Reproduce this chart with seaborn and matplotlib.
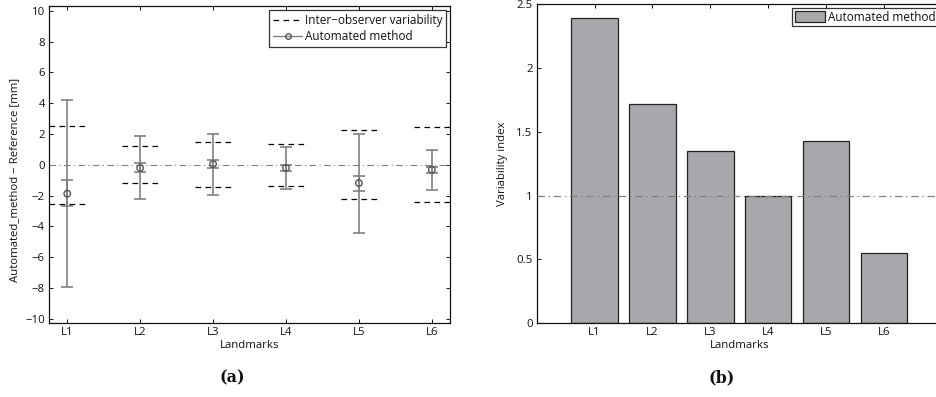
import numpy as np
import pandas as pd
import matplotlib
matplotlib.use("Agg")
import matplotlib.pyplot as plt
from matplotlib.lines import Line2D
from matplotlib.patches import Patch
import seaborn as sns

# Landmark labels
landmarks = ["L1", "L2", "L3", "L4", "L5", "L6"]

# Automated method minus reference [mm]
mean_diff = [-1.88, -0.21, 0.04, -0.21, -1.19, -0.33]
inner_low = [-2.71, -0.50, -0.21, -0.43, -1.69, -0.54]
inner_high = [-1.00, 0.11, 0.32, -0.04, -0.76, -0.15]
outer_low = [-7.97, -2.23, -1.95, -1.56, -4.44, -1.67]
outer_high = [4.22, 1.84, 1.99, 1.13, 1.97, 0.97]

# Inter-observer variability limits (symmetric)
inter_obs = [2.53, 1.19, 1.46, 1.35, 2.23, 2.43]

# Variability index of the automated method
variability_index = [2.39, 1.72, 1.35, 1.00, 1.43, 0.55]

sns.set_style("ticks")
plt.rcParams["font.family"] = ["Open Sans", "DejaVu Sans"]
plt.rcParams["font.size"] = 8.2
plt.rcParams["text.color"] = "#111111"
plt.rcParams["axes.labelcolor"] = "#111111"
plt.rcParams["xtick.color"] = "#111111"
plt.rcParams["ytick.color"] = "#111111"
plt.rcParams["axes.edgecolor"] = "#111111"
plt.rcParams["axes.linewidth"] = 0.9
plt.rcParams["xtick.direction"] = "in"
plt.rcParams["ytick.direction"] = "in"
plt.rcParams["xtick.major.size"] = 3
plt.rcParams["ytick.major.size"] = 3
plt.rcParams["xtick.major.width"] = 0.7
plt.rcParams["ytick.major.width"] = 0.7

fig = plt.figure(figsize=(9.36, 3.97), dpi=100)
ax1 = fig.add_axes([0.0524, 0.1856, 0.4284, 0.799])
ax2 = fig.add_axes([0.5734, 0.1856, 0.4330, 0.8043])

GRAY = "#808080"

# ---- (a) differences with whiskers ----
df = pd.DataFrame({"landmark": landmarks, "mean": mean_diff})
x = np.arange(len(landmarks))
m = np.array(mean_diff)

ax1.axhline(0, color=GRAY, lw=0.8, ls=(0, (6, 3, 1, 3)), zorder=1)

for xi, v in zip(x, inter_obs):
    ax1.hlines([v, -v], xi - 0.25, xi + 0.25, colors="black", lw=0.9,
               linestyles=[(0, (4.5, 3.5))], zorder=2)

ax1.errorbar(x, m, yerr=[m - np.array(outer_low), np.array(outer_high) - m],
             fmt="none", ecolor=GRAY, elinewidth=1.2, capsize=4, capthick=1.2, zorder=3)
ax1.errorbar(x, m, yerr=[m - np.array(inner_low), np.array(inner_high) - m],
             fmt="none", ecolor=GRAY, elinewidth=1.2, capsize=4, capthick=1.2, zorder=3)
sns.scatterplot(data=df, x="landmark", y="mean", ax=ax1, marker="o", s=22,
                facecolor="none", edgecolor="#555555", linewidth=1.0, zorder=4)

ax1.set_xlim(-0.25, 5.25)
ax1.set_ylim(-10.3, 10.3)
ax1.set_yticks(np.arange(-10, 11, 2))
ax1.set_yticklabels([f"{t}".replace("-", "\u2212") for t in range(-10, 11, 2)])
ax1.set_xticks(x)
ax1.set_xticklabels(landmarks)
ax1.set_xlabel("Landmarks", labelpad=1)
ax1.set_ylabel("Automated_method \u2212 Reference [mm]", labelpad=2)
ax1.yaxis.set_label_coords(-0.073, 0.452)
ax1.tick_params(top=True, right=True, pad=3)

h1 = [Line2D([], [], color="black", lw=0.9, ls=(0, (4.5, 3.5))),
      Line2D([], [], color=GRAY, lw=1.0, marker="o", markersize=4,
             markerfacecolor="none", markeredgecolor="#555555")]
leg1 = ax1.legend(h1, ["Inter\u2212observer variability", "Automated method"],
                  loc="upper right", frameon=True, fancybox=False, edgecolor="black",
                  borderaxespad=0.3, handlelength=2.5, handletextpad=0.2,
                  borderpad=0.35, labelspacing=0.3, fontsize=8.5)
leg1.get_frame().set_linewidth(0.9)

# ---- (b) variability index bars ----
dfb = pd.DataFrame({"landmark": landmarks, "index": variability_index})
sns.barplot(data=dfb, x="landmark", y="index", ax=ax2, color="#a7a8ac",
            width=0.8, edgecolor="#222222", linewidth=0.9, saturation=1, zorder=2)
ax2.axhline(1, color=GRAY, lw=0.9, ls=(0, (6, 3, 1, 3)), zorder=3)
ax2.set_xlim(-1, 6)
ax2.set_ylim(0, 2.5)
ax2.set_yticks([0, 0.5, 1, 1.5, 2, 2.5])
ax2.set_yticklabels(["0", "0.5", "1", "1.5", "2", "2.5"])
ax2.set_xlabel("Landmarks", labelpad=1)
ax2.set_ylabel("Variability index", labelpad=6)
ax2.tick_params(top=True, right=True, pad=3)

leg2 = ax2.legend([Patch(facecolor="#a7a8ac", edgecolor="#222222", lw=0.9)],
                  ["Automated method"], loc="upper right", frameon=True,
                  fancybox=False, edgecolor="black", borderaxespad=0.3,
                  handlelength=2.5, handleheight=1.05, handletextpad=0.25,
                  borderpad=0.25, fontsize=8.5)
leg2.get_frame().set_linewidth(0.9)

fig.text(0.2478, 0.047, "(a)", ha="center", va="center", fontsize=11.5,
         fontweight="bold", family="DejaVu Serif")
fig.text(0.7714, 0.047, "(b)", ha="center", va="center", fontsize=11.5,
         fontweight="bold", family="DejaVu Serif")

fig.savefig("out.png", dpi=100)
